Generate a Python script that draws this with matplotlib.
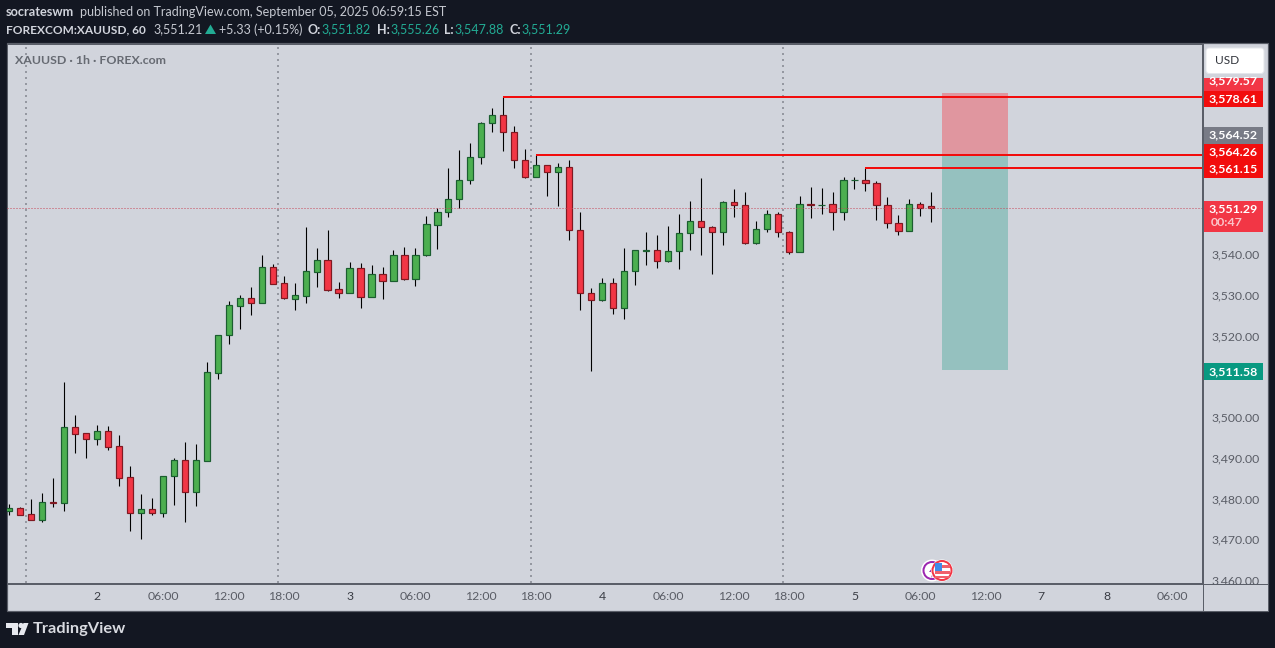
import matplotlib
matplotlib.use("Agg")
import matplotlib.pyplot as plt
from matplotlib.patches import Rectangle, Circle, Polygon, FancyBboxPatch

# hourly XAUUSD candles
opens = [3477.0, 3477.6, 3476.1, 3474.8, 3479.2, 3479.0, 3497.5, 3496.0, 3494.7, 3496.5,
         3492.8, 3485.2, 3476.5, 3477.4, 3476.5, 3485.4, 3489.4, 3481.7, 3489.3, 3510.9,
         3520.0, 3527.3, 3529.1, 3528.0, 3536.7, 3532.8, 3529.0, 3529.8, 3535.7, 3538.5,
         3531.3, 3530.5, 3536.5, 3529.5, 3535.0, 3533.4, 3539.7, 3533.9, 3539.7, 3547.2,
         3550.2, 3553.4, 3558.1, 3563.7, 3572.1, 3574.0, 3570.0, 3563.1, 3559.0, 3561.8,
         3560.0, 3561.3, 3546.0, 3530.5, 3528.8, 3532.8, 3526.8, 3535.8, 3540.8, 3540.9,
         3538.4, 3540.7, 3545.1, 3548.0, 3546.7, 3545.5, 3552.7, 3552.1, 3542.6, 3546.1,
         3549.7, 3545.5, 3540.6, 3552.2, 3551.9, 3552.3, 3550.3, 3558.1, 3558.2, 3557.3,
         3552.0, 3547.6, 3545.6, 3552.3, 3551.82]
highs = [3478.7, 3477.9, 3479.9, 3481.3, 3485.0, 3508.6, 3500.5, 3496.1, 3498.0, 3497.8,
         3495.6, 3488.0, 3481.1, 3480.1, 3485.5, 3489.9, 3493.9, 3493.4, 3513.5, 3520.1,
         3528.5, 3529.9, 3531.9, 3539.8, 3537.5, 3534.6, 3532.9, 3546.6, 3541.5, 3545.9,
         3533.1, 3538.0, 3537.8, 3537.3, 3536.8, 3541.0, 3541.7, 3541.5, 3549.3, 3551.3,
         3561.1, 3565.5, 3567.2, 3572.4, 3575.8, 3578.6, 3571.4, 3565.8, 3564.2, 3561.8,
         3562.3, 3563.1, 3550.3, 3531.7, 3534.1, 3534.1, 3541.5, 3541.0, 3545.4, 3544.7,
         3546.9, 3549.8, 3553.0, 3558.7, 3546.9, 3553.0, 3556.0, 3555.2, 3548.1, 3550.8,
         3550.3, 3545.6, 3554.2, 3556.4, 3556.2, 3555.2, 3558.9, 3558.9, 3561.1, 3557.9,
         3554.0, 3549.6, 3553.5, 3552.8, 3555.26]
lows = [3476.0, 3475.9, 3474.7, 3474.2, 3477.9, 3476.9, 3491.2, 3489.9, 3493.1, 3491.9,
        3483.1, 3472.0, 3470.1, 3476.0, 3475.5, 3478.4, 3474.2, 3478.2, 3489.2, 3509.3,
        3517.9, 3521.6, 3525.0, 3528.0, 3532.6, 3529.0, 3526.3, 3528.0, 3531.9, 3530.9,
        3529.2, 3530.4, 3526.7, 3529.4, 3529.0, 3533.4, 3533.6, 3532.1, 3539.6, 3541.2,
        3549.1, 3551.3, 3557.2, 3562.1, 3569.9, 3565.3, 3561.1, 3558.7, 3558.9, 3554.2,
        3551.8, 3543.4, 3526.3, 3511.3, 3528.5, 3525.3, 3524.0, 3532.4, 3537.3, 3536.6,
        3538.0, 3536.3, 3541.0, 3539.8, 3535.1, 3542.2, 3549.1, 3542.5, 3542.5, 3545.4,
        3544.2, 3540.0, 3540.5, 3548.8, 3549.8, 3545.9, 3548.3, 3556.0, 3555.5, 3548.3,
        3546.4, 3544.7, 3545.6, 3549.3, 3547.88]
closes = [3477.6, 3476.0, 3474.8, 3479.1, 3479.0, 3497.5, 3495.9, 3494.7, 3496.5, 3492.7,
          3485.1, 3476.5, 3477.4, 3476.5, 3485.4, 3489.4, 3481.7, 3489.4, 3511.0, 3520.0,
          3527.4, 3529.1, 3528.0, 3536.7, 3532.7, 3529.1, 3529.9, 3535.8, 3538.5, 3531.2,
          3530.5, 3536.5, 3529.5, 3535.0, 3533.4, 3539.7, 3533.9, 3539.7, 3547.3, 3550.2,
          3553.4, 3558.1, 3563.7, 3572.1, 3574.0, 3570.0, 3563.1, 3559.0, 3561.8, 3560.0,
          3561.3, 3546.0, 3530.5, 3528.8, 3532.8, 3526.8, 3535.8, 3540.9, 3540.9, 3538.4,
          3540.7, 3545.1, 3548.0, 3546.7, 3545.5, 3552.7, 3552.1, 3542.6, 3546.1, 3549.7,
          3545.5, 3540.6, 3552.2, 3552.0, 3552.1, 3550.3, 3558.2, 3558.2, 3557.3, 3552.0,
          3547.6, 3545.6, 3552.3, 3551.3, 3551.29]

# time axis, in bar numbers
time_ticks = [8, 14, 20, 25, 31, 37, 43, 48, 54, 60, 66, 71, 77, 83, 89, 94, 100, 106]
time_labels = ["2", "06:00", "12:00", "18:00", "3", "06:00", "12:00", "18:00", "4",
               "06:00", "12:00", "18:00", "5", "06:00", "12:00", "7", "8", "06:00"]
session_breaks = [1.5, 24.5, 47.5, 70.5]

price_ticks = [3460, 3470, 3480, 3490, 3500, 3520, 3530, 3540]

# drawn levels: (start bar, price)
levels = [(45, 3578.61), (48, 3564.26), (78, 3561.15)]
last_price = 3551.29
zone_bars = (85, 91)
stop_price = 3579.57
entry_price = 3564.52
target_price = 3511.58

W, H = 1275, 648
BG = "#131722"
PANE = "#D1D4DC"
EDGE = "#5A5E68"
GREEN = "#4CAF50"
GREEN_EDGE = "#1B5E30"
RED = "#F23645"
RED_EDGE = "#801922"
LEVEL = "#F20D0D"
TEXT = "#5A5D66"
PX = 0.72  # one pixel in points at dpi 100

plt.rcParams["font.family"] = ["Lato", "DejaVu Sans"]

fig = plt.figure(figsize=(W / 100, H / 100), dpi=100, facecolor=BG)
fig.add_artist(Rectangle((7 / W, 1 - 611 / H), 1261 / W, 568 / H, transform=fig.transFigure,
                         facecolor=PANE, edgecolor=EDGE, lw=1.2 * PX, zorder=-1))

# main pane, limits line up with the pixel grid of the screenshot
ax = fig.add_axes([7 / W, 1 - 583 / H, 1195 / W, 539 / H], facecolor=PANE)
ax.set_xlim(-0.21, 108.66)
ax.set_ylim(3459.26, 3591.53)
for s in ax.spines.values():
    s.set_color(EDGE)
    s.set_linewidth(1 * PX)

for x in session_breaks:
    ax.axvline(x, color="#9598A1", lw=2 * PX, ls=(0, (1, 2)), dash_capstyle="butt", zorder=1)

ax.axhspan(entry_price, stop_price, xmin=(zone_bars[0] + 0.21) / 108.87,
           xmax=(zone_bars[1] + 0.21) / 108.87, facecolor="#E0969F", lw=0, zorder=1.5)
ax.axhspan(target_price, entry_price, xmin=(zone_bars[0] + 0.21) / 108.87,
           xmax=(zone_bars[1] + 0.21) / 108.87, facecolor="#95C1BF", lw=0, zorder=1.5)

ax.axhline(last_price, color="#C8485A", lw=1 * PX, ls=(0, (1, 2)), zorder=4)

for i in range(len(opens)):
    up = closes[i] >= opens[i]
    ax.vlines(i, lows[i], highs[i], color="black", lw=1.1 * PX, zorder=2)
    ax.bar(i, abs(closes[i] - opens[i]), bottom=min(opens[i], closes[i]), width=0.57,
           facecolor=GREEN if up else RED, edgecolor=GREEN_EDGE if up else RED_EDGE,
           lw=1.2 * PX, zorder=3)

for start, price in levels:
    ax.hlines(price, start, ax.get_xlim()[1], color=LEVEL, lw=2 * PX, zorder=5)

ax.set_xticks(time_ticks)
ax.set_xticklabels(time_labels)
ax.yaxis.tick_right()
ax.set_yticks(price_ticks)
ax.set_yticklabels([f"{p:,.2f}" for p in price_ticks])
ax.tick_params(axis="x", length=0, pad=6, labelsize=8.8, labelcolor=TEXT)
ax.tick_params(axis="y", length=0, pad=6.5, labelsize=8.8, labelcolor=TEXT)
for lb, txt in zip(ax.get_xticklabels(), time_labels):
    if len(txt) == 1:
        lb.set_color("#3A3D45")

# everything around the chart goes on a full size layer in pixels
top = fig.add_axes([0, 0, 1, 1], zorder=5)
top.set_xlim(0, W)
top.set_ylim(H, 0)
top.axis("off")

top.add_patch(Rectangle((1203, 584), 64.5, 26.5, facecolor=PANE, lw=0))
top.plot([1202.5, 1202.5], [44, 611], color=EDGE, lw=1 * PX)
top.plot([7, 1268], [583.5, 583.5], color=EDGE, lw=1 * PX)

top.text(15, 60.5, "XAUUSD · 1h · FOREX.com", color="#666A72", fontsize=8.9,
         fontweight="bold", va="center")

# price labels
def tag(y0, y1, color, text, text_y=None):
    top.add_patch(Rectangle((1203.5, y0), 59.5, y1 - y0, facecolor=color, lw=0, zorder=3))
    top.text(1233.5, (y0 + y1) / 2 if text_y is None else text_y, text, color="white",
             fontsize=8.9, fontweight="bold", ha="center", va="center", zorder=4)

tag(78, 90.5, RED, f"{stop_price:,.2f}", 81)
tag(90.5, 107, LEVEL, f"{levels[0][1]:,.2f}")
tag(127, 143.5, "#787B86", f"{entry_price:,.2f}")
tag(144, 160.5, LEVEL, f"{levels[1][1]:,.2f}")
tag(160.5, 177.5, LEVEL, f"{levels[2][1]:,.2f}")
tag(201, 232, RED, f"{last_price:,.2f}", 209)
top.text(1210.5, 223, "00:47", color="#FBC5CA", fontsize=8.9, fontweight="bold", va="center", zorder=4)
tag(363, 380, "#089981", f"{target_price:,.2f}")

top.add_patch(FancyBboxPatch((1206, 48), 58, 25.5, boxstyle="round,pad=0,rounding_size=3",
                             facecolor="white", edgecolor="#E4E6EB", lw=1 * PX, zorder=5))
top.text(1215, 61, "USD", color="#30333A", fontsize=8.6, va="center", zorder=6)

# header
top.text(6, 12.5, "socrateswm", color="#D1D4DC", fontsize=9.2, fontweight="bold", va="center")
top.text(80, 12.5, "published on TradingView.com, September 05, 2025 06:59:15 EST",
         color="#C5C8D0", fontsize=9, va="center")
top.text(6, 29.5, "FOREXCOM:XAUUSD, 60", color="#D1D4DC", fontsize=8.6, fontweight="bold", va="center")
top.text(153, 29.5, "3,551.21", color="#C5C8D0", fontsize=9, va="center")
top.add_patch(Polygon([(205, 34), (216, 34), (210.5, 24.5)], facecolor="#22AB94", lw=0))
top.text(219, 29.5, "+5.33 (+0.15%)", color="#C5C8D0", fontsize=9, va="center")
for lx, name, vx, val in [(308, "O:", 321, opens[-1]), (377, "H:", 390, highs[-1]),
                          (444, "L:", 454, lows[-1]), (509, "C:", 521, closes[-1])]:
    top.text(lx, 29.5, name, color="#D1D4DC", fontsize=9, fontweight="bold", va="center")
    top.text(vx, 29.5, f"{val:,.2f}", color="#22AB94", fontsize=9, va="center")

# event icons
top.add_patch(Circle((932, 570.5), 11, facecolor="white", lw=0, zorder=3))
top.add_patch(Circle((932, 570.5), 8.5, facecolor="white", edgecolor="#9C27B0", lw=2 * PX, zorder=3))
top.add_patch(Polygon([(936, 563), (929, 572), (933, 572), (931, 578), (938, 569), (934, 569)],
                      facecolor="#9C27B0", lw=0, zorder=3))
top.add_patch(Circle((942, 570.5), 11, facecolor="white", lw=0, zorder=4))
top.add_patch(Circle((942, 570.5), 9.5, facecolor="white", edgecolor="#F23645", lw=2 * PX, zorder=4))
top.add_patch(Rectangle((934.5, 565), 15, 3, facecolor="#F0606C", lw=0, zorder=5))
top.add_patch(Rectangle((934.5, 571), 15, 3, facecolor="#F0606C", lw=0, zorder=5))
top.add_patch(Rectangle((934.5, 576), 15, 2, facecolor="#F0606C", lw=0, zorder=5))
top.add_patch(Rectangle((935, 563), 7, 7.5, facecolor="#3F8BE8", lw=0, zorder=6))

# logo
top.add_patch(Polygon([(6, 623), (17.5, 623), (17.5, 635), (12, 635), (12, 628), (6, 628)],
                      facecolor="#E6E8EE", lw=0))
top.add_patch(Circle((21, 625.5), 2.6, facecolor="#E6E8EE", lw=0))
top.add_patch(Polygon([(23.5, 623), (28.5, 623), (24, 635), (18.5, 635)], facecolor="#E6E8EE", lw=0))
top.text(33, 629.5, "TradingView", color="#D8DAE0", fontsize=11.8, fontweight="bold", va="center")

fig.savefig("out.png", dpi=100, facecolor=BG)
